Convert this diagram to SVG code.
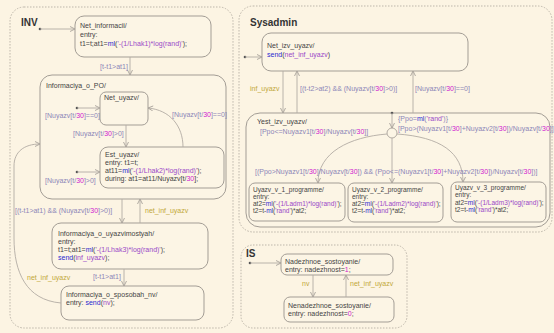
<svg xmlns="http://www.w3.org/2000/svg" width="554" height="333" viewBox="0 0 554 333">
<defs>
<style>
text{font-family:"Liberation Sans",Arial,sans-serif;}
.t{font-size:7px;fill:#444;}
.ts{font-size:6.5px;fill:#444;}
.h{font-size:10px;font-weight:bold;fill:#333;}
.k{fill:#2a2ad0;}
.s{fill:#9a48c8;}
.n{fill:#d020d0;}
.lb{font-size:7px;fill:#8c86b8;}
.ev{font-size:7px;fill:#c2a83a;}
.par{fill:none;stroke:#bdb6aa;stroke-width:1;stroke-dasharray:1.5,1.5;}
.st{fill:#fcf5e5;stroke:#a39d95;stroke-width:1;}
.c{fill:none;stroke:#b2aca4;stroke-width:0.9;}
.d{fill:#555;}
</style>
<marker id="a" markerWidth="6" markerHeight="6" refX="5.5" refY="3" orient="auto" markerUnits="userSpaceOnUse">
<path d="M0.5,0.5 L5.5,3 L0.5,5.5" fill="none" stroke="#a8a29a" stroke-width="0.9"/>
</marker>
</defs>
<rect x="0" y="0" width="554" height="333" fill="#fcf4e3"/>

<g id="INV">
<rect class="par" x="10" y="7" width="223" height="321" rx="14"/>
<text class="h" x="21" y="26">INV</text>
</g>
<g id="Sysadmin">
<rect class="par" x="239" y="6" width="313" height="226" rx="14"/>
<text class="h" x="250" y="26">Sysadmin</text>
</g>
<g id="IS">
<rect class="par" x="241" y="245" width="166" height="83" rx="12"/>
<text class="h" x="246" y="257">IS</text>
</g>

<g id="Net_informacii">
<rect class="st" x="75" y="16" width="136" height="41" rx="9"/>
<text class="t" x="80" y="28">Net_informacii/</text>
<text class="t" x="80" y="37">entry:</text>
<text class="t" x="80" y="46">t1=t;at1=<tspan class="k">ml</tspan>(<tspan class="s">'-(1/Lhak1)*log(rand)'</tspan>);</text>
</g>

<g id="Informaciya_o_PO">
<rect class="st" x="40" y="75" width="186" height="124" rx="12"/>
<text class="t" x="46" y="88">Informaciya_o_PO/</text>
</g>
<g id="Net_uyazv">
<rect class="st" x="100" y="92" width="48" height="33" rx="6"/>
<text class="t" x="104" y="100">Net_uyazv/</text>
</g>
<g id="Est_uyazv">
<rect class="st" x="100" y="147" width="124" height="41" rx="8"/>
<text class="t" x="105" y="157">Est_uyazv/</text>
<text class="t" x="105" y="165">entry: t1=t;</text>
<text class="t" x="105" y="173">at11=<tspan class="k">ml</tspan>(<tspan class="s">'-(1/Lhak2)*log(rand)'</tspan>);</text>
<text class="t" x="105" y="181">during: at1=at11/Nuyazv[t/<tspan class="n">30</tspan>];</text>
</g>
<g id="Informaciya_o_uyazvimostyah">
<rect class="st" x="52" y="223" width="156" height="46" rx="9"/>
<text class="t" x="58" y="236">Informaciya_o_uyazvimostyah/</text>
<text class="t" x="58" y="244">entry:</text>
<text class="t" x="58" y="252">t1=t;at1=<tspan class="k">ml</tspan>(<tspan class="s">'-(1/Lhak3)*log(rand)'</tspan>);</text>
<text class="t" x="58" y="260"><tspan class="k">send</tspan>(<tspan class="s">inf_uyazv</tspan>);</text>
</g>
<g id="Informaciya_o_sposobah_nv">
<rect class="st" x="61" y="286" width="143" height="34" rx="8"/>
<text class="t" x="66" y="297">Informaciya_o_sposobah_nv/</text>
<text class="t" x="66" y="305">entry: <tspan class="k">send</tspan>(<tspan class="s">nv</tspan>);</text>
</g>

<g id="Net_izv_uyazv">
<rect class="st" x="262" y="33" width="206" height="38" rx="9"/>
<text class="t" x="267" y="48">Net_izv_uyazv/</text>
<text class="t" x="267" y="57"><tspan class="k">send</tspan>(<tspan class="s">net_inf_uyazv</tspan>)</text>
</g>
<g id="Yest_izv_uyazv">
<rect class="st" x="246" y="113" width="304" height="114" rx="14"/>
<text class="t" x="257" y="124">Yest_izv_uyazv/</text>
<circle cx="392" cy="133" r="5" fill="#fcf5e5" stroke="#a8a29a" stroke-width="0.9"/>
</g>
<g id="Uyazv_v_1_programme">
<rect class="st" x="249" y="183" width="96" height="38" rx="6"/>
<text class="ts" x="253" y="192">Uyazv_v_1_programme/</text>
<text class="ts" x="253" y="199">entry:</text>
<text class="ts" x="253" y="206">at2=<tspan class="k">ml</tspan>(<tspan class="s">'-(1/Ladm1)*log(rand)'</tspan>);</text>
<text class="ts" x="253" y="213">t2=t-<tspan class="k">ml</tspan>(<tspan class="s">'rand'</tspan>)*at2;</text>
</g>
<g id="Uyazv_v_2_programme">
<rect class="st" x="348" y="183" width="95" height="39" rx="6"/>
<text class="ts" x="352" y="192">Uyazv_v_2_programme/</text>
<text class="ts" x="352" y="199">entry:</text>
<text class="ts" x="352" y="206">at2=<tspan class="k">ml</tspan>(<tspan class="s">'-(1/Ladm2)*log(rand)'</tspan>);</text>
<text class="ts" x="352" y="213">t2=t-<tspan class="k">ml</tspan>(<tspan class="s">'rand'</tspan>)*at2;</text>
</g>
<g id="Uyazv_v_3_programme">
<rect class="st" x="451" y="182" width="95" height="40" rx="6"/>
<text class="ts" x="455" y="190">Uyazv_v_3_programme/</text>
<text class="ts" x="455" y="197">entry:</text>
<text class="ts" x="455" y="205">at2=<tspan class="k">ml</tspan>(<tspan class="s">'-(1/Ladm3)*log(rand)'</tspan>);</text>
<text class="ts" x="455" y="212">t2=t-<tspan class="k">ml</tspan>(<tspan class="s">'rand'</tspan>)*at2;</text>
</g>

<g id="Nadezhnoe_sostoyanie">
<rect class="st" x="281" y="254" width="112" height="21" rx="6"/>
<text class="t" x="285" y="264">Nadezhnoe_sostoyanie/</text>
<text class="t" x="285" y="272">entry: nadezhnost=<tspan class="n">1</tspan>;</text>
</g>
<g id="Nenadezhnoe_sostoyanie">
<rect class="st" x="284" y="297" width="110" height="25" rx="6"/>
<text class="t" x="288" y="308">Nenadezhnoe_sostoyanie/</text>
<text class="t" x="288" y="316">entry: nadezhnost=<tspan class="n">0</tspan>;</text>
</g>

<g id="connectors">
<circle class="d" cx="40" cy="29" r="1.3"/>
<path class="c" d="M40,29 L75,29" marker-end="url(#a)"/>
<path class="c" d="M130,57 L130,75" marker-end="url(#a)"/>
<text class="lb" x="100" y="69">[t-t1&gt;at1]</text>

<circle class="d" cx="77" cy="108" r="1.3"/>
<path class="c" d="M77,108 L100,108" marker-end="url(#a)"/>
<text class="lb" x="45" y="118">[Nuyazv[t/<tspan class="n">30</tspan>]==0]</text>
<path class="c" d="M126,125 L126,147" marker-end="url(#a)"/>
<text class="lb" x="73" y="136">[Nuyazv[t/<tspan class="n">30</tspan>]&gt;0]</text>
<path class="c" d="M183,147 C183,126 170,110 148,108" marker-end="url(#a)"/>
<text class="lb" x="172" y="117">[Nuyazv[t/<tspan class="n">30</tspan>]==0]</text>
<circle class="d" cx="77" cy="172" r="1.3"/>
<path class="c" d="M77,172 L100,172" marker-end="url(#a)"/>
<text class="lb" x="45" y="183">[Nuyazv[t/<tspan class="n">30</tspan>]&gt;0]</text>

<path class="c" d="M122,199 L122,223" marker-end="url(#a)"/>
<text class="lb" x="15" y="213">[(t-t1&gt;at1) &amp;&amp; (Nuyazv[t/<tspan class="n">30</tspan>]&gt;0)]</text>
<path class="c" d="M140,223 L140,199" marker-end="url(#a)"/>
<text class="ev" x="145" y="213">net_inf_uyazv</text>
<path class="c" d="M124,269 L124,286" marker-end="url(#a)"/>
<text class="lb" x="93" y="279">[t-t1&gt;at1]</text>
<path class="c" d="M61,303 C26,300 14,272 14,238 L14,166 C14,152 24,144 40,144" marker-end="url(#a)"/>
<text class="ev" x="27" y="280">net_inf_uyazv</text>

<circle class="d" cx="245" cy="57" r="1.3"/>
<path class="c" d="M245,57 L262,57" marker-end="url(#a)"/>
<path class="c" d="M283,71 L283,113" marker-end="url(#a)"/>
<text class="ev" x="250" y="91">inf_uyazv</text>
<path class="c" d="M297,113 L297,71" marker-end="url(#a)"/>
<text class="lb" x="300" y="91">[(t-t2&gt;at2) &amp;&amp; (Nuyazv[t/<tspan class="n">30</tspan>]&gt;0)]</text>
<path class="c" d="M413,113 L413,71" marker-end="url(#a)"/>
<text class="lb" x="415" y="91">[Nuyazv[t/<tspan class="n">30</tspan>]==0]</text>

<circle class="d" cx="392" cy="113" r="1.3"/>
<path class="c" d="M392,113 L392,128" marker-end="url(#a)"/>
<text class="lb" x="398" y="121">{Ppo=<tspan class="k">ml</tspan>(<tspan class="s">'rand'</tspan>)}</text>
<text class="lb" x="398" y="131">[Ppo&gt;(Nuyazv1[t/<tspan class="n">30</tspan>]+Nuyazv2[t/<tspan class="n">30</tspan>])/Nuyazv[t/<tspan class="n">30</tspan>]]</text>
<text class="lb" x="260" y="134">[Ppo&lt;=Nuyazv1[t/<tspan class="n">30</tspan>]/Nuyazv[t/<tspan class="n">30</tspan>]]</text>
<path class="c" d="M387,134 C350,137 318,152 318,183" marker-end="url(#a)"/>
<path class="c" d="M392,138 L392,183" marker-end="url(#a)"/>
<path class="c" d="M397,134 C440,137 463,152 463,182" marker-end="url(#a)"/>
<text class="lb" x="255" y="174">[(Ppo&gt;Nuyazv1[t/<tspan class="n">30</tspan>]/Nuyazv[t/<tspan class="n">30</tspan>]) &amp;&amp; (Ppo&lt;=(Nuyazv1[t/<tspan class="n">30</tspan>]+Nuyazv2[t/<tspan class="n">30</tspan>])/Nuyazv[t/<tspan class="n">30</tspan>])]</text>

<circle class="d" cx="250" cy="263" r="1.3"/>
<path class="c" d="M250,263 L281,263" marker-end="url(#a)"/>
<path class="c" d="M313,275 L313,297" marker-end="url(#a)"/>
<text class="ev" x="302" y="286">nv</text>
<path class="c" d="M346,297 L346,275" marker-end="url(#a)"/>
<text class="ev" x="350" y="286">net_inf_uyazv</text>
</g>
</svg>
